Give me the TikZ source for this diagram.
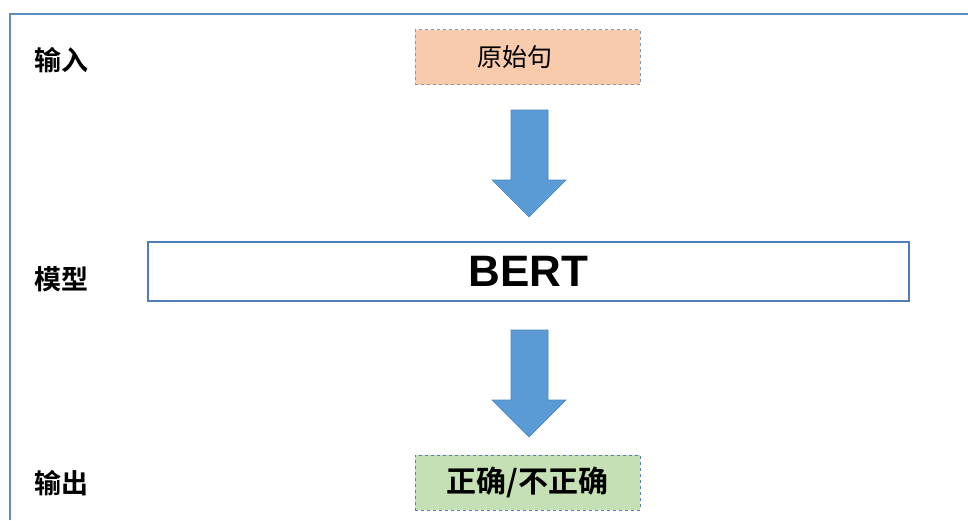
\documentclass[tikz,border=0pt]{standalone}
\usepackage{fontspec}
\setmainfont{Liberation Sans}
\newfontfamily\cjk{Noto Sans CJK SC}
\newfontfamily\cjkb{Noto Sans CJK SC Bold}
\usetikzlibrary{positioning}
\definecolor{framec}{HTML}{5F8DC0}
\definecolor{inputfill}{HTML}{F8CBAD}
\definecolor{inputdraw}{HTML}{7F9AB3}
\definecolor{outfill}{HTML}{C5E0B4}
\definecolor{outdraw}{HTML}{4F81BD}
\definecolor{bertdraw}{HTML}{4F7EB8}
\definecolor{arrowfill}{HTML}{5B9BD5}
\definecolor{arrowdraw}{HTML}{4A86C0}
\tikzset{
  x=1pt,y=-1pt,
  rowlabel/.style={font=\cjkb\fontsize{27}{30}\selectfont, anchor=west, inner sep=0pt},
  inbox/.style={draw=inputdraw, fill=inputfill, dashed, line width=0.9pt, minimum width=225pt, minimum height=55pt, inner sep=0pt},
  boxtext/.style={inner sep=0pt},
  outbox/.style={draw=outdraw, fill=outfill, dashed, line width=0.9pt, minimum width=225pt, minimum height=55pt, inner sep=0pt, font=\cjkb\fontsize{30}{34}\selectfont},
  bertbox/.style={draw=bertdraw, fill=white, line width=1.1pt, minimum width=761pt, minimum height=59pt, inner sep=0pt, font=\bfseries\fontsize{44}{48}\selectfont},
  bigarrow/.style={fill=arrowfill, draw=arrowdraw, line width=0.6pt, line join=miter}
}
\begin{document}
\begin{tikzpicture}
\useasboundingbox (0,0) rectangle (968,520);
% frame
\draw[framec, line width=1.3pt] (10,520) -- (10,14) -- (968,14);
% row labels
\node[rowlabel] (lin) at (34,60) {输入};
\node[rowlabel] (lmod) at (34,279) {模型};
\node[rowlabel] (lout) at (34,483) {输出};
% boxes
\node[inbox] (in) at (527.5,57) {};
\node[boxtext, font=\cjk\fontsize{25}{28}\selectfont] (intext) at (515,57) {原始句};
\node[bertbox] (bert) at (528.5,271.5) {BERT};
\node[outbox] (out) at (527.5,482.5) {正确/不正确};
% arrows
\draw[bigarrow] (511,110) -- (548,110) -- (548,180) -- (566,180) -- (529,217) -- (492,180) -- (511,180) -- cycle;
\draw[bigarrow] (511,330) -- (548,330) -- (548,400) -- (566,400) -- (529,437) -- (492,400) -- (511,400) -- cycle;
\end{tikzpicture}
\end{document}
